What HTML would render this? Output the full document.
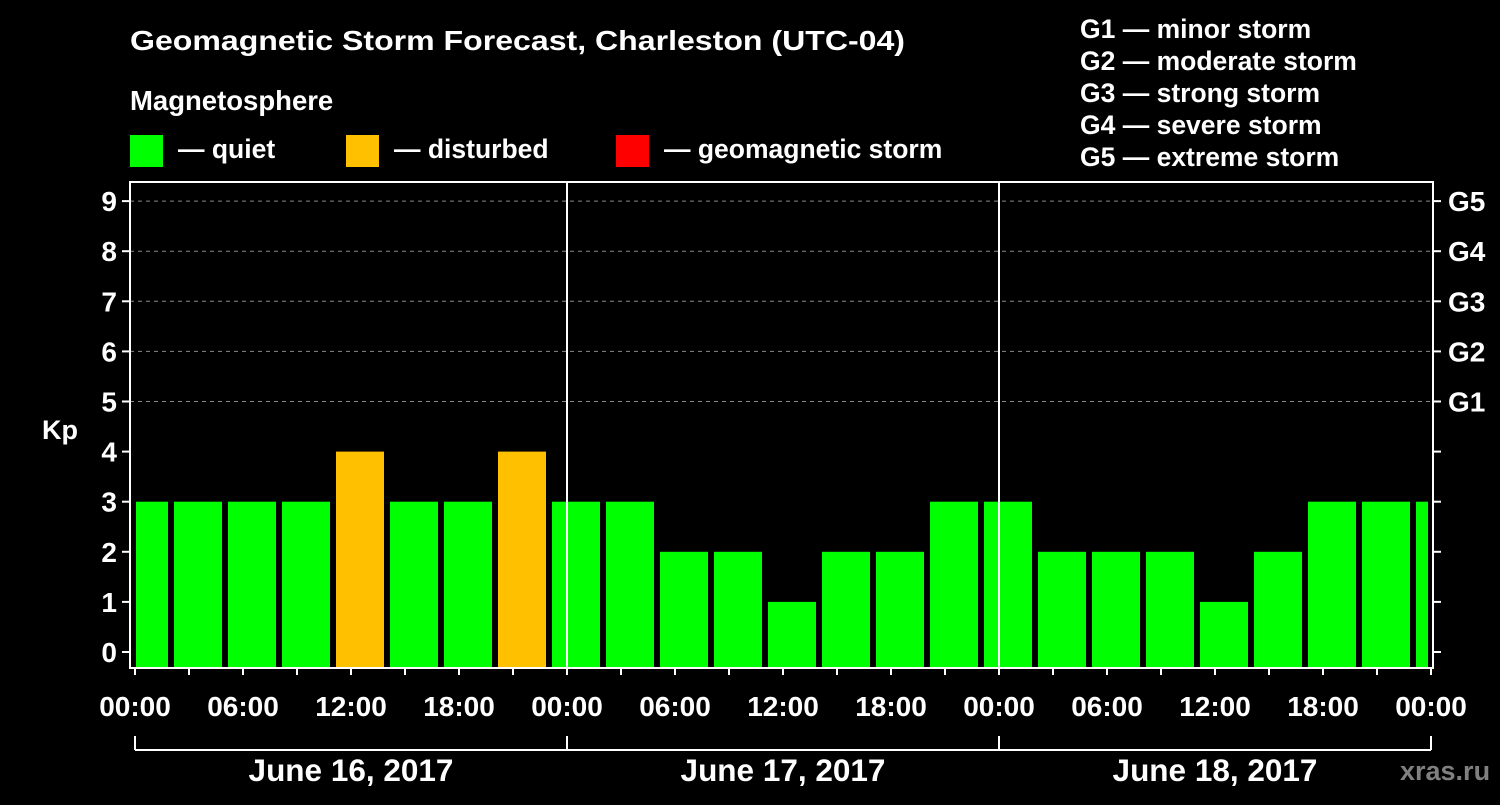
<!DOCTYPE html>
<html><head><meta charset="utf-8"><style>
body{margin:0;background:#000;}
svg text{font-family:"Liberation Sans",sans-serif;font-weight:bold;fill:#fff;}
</style></head><body>
<svg id="c" width="1500" height="800" xmlns="http://www.w3.org/2000/svg">
<rect width="1500" height="800" fill="#000"/>
<text x="130" y="50" font-size="28" textLength="775" lengthAdjust="spacingAndGlyphs">Geomagnetic Storm Forecast, Charleston (UTC-04)</text>
<text x="130" y="110" font-size="27.5">Magnetosphere</text>
<g><rect x="130" y="135" width="33" height="32" fill="#00ff00"/><text x="178" y="158" font-size="26.5">— quiet</text></g>
<g><rect x="346" y="135" width="33" height="32" fill="#ffc000"/><text x="394" y="158" font-size="26.5">— disturbed</text></g>
<g><rect x="616" y="135" width="33" height="32" fill="#ff0000"/><text x="664" y="158" font-size="26.5">— geomagnetic storm</text></g>
<g font-size="26.5">
<text x="1080" y="38">G1 — minor storm</text><text x="1080" y="70">G2 — moderate storm</text><text x="1080" y="102">G3 — strong storm</text><text x="1080" y="134">G4 — severe storm</text><text x="1080" y="166">G5 — extreme storm</text></g>
<text x="42" y="439" font-size="27">Kp</text>
<text x="1400" y="780" font-size="27" style="fill:#808080">xras.ru</text>
<g id="grid"></g><g id="bars"></g><g id="axes"></g>
</svg>
<script>
const kpValues=[3,3,3,3,4,3,3,4,3,3,2,2,1,2,2,3,3,2,2,2,1,2,3,3,3];
const yTicks=[0,1,2,3,4,5,6,7,8,9];
const gLabels=["G1","G2","G3","G4","G5"];
const xLabels=["00:00","06:00","12:00","18:00","00:00","06:00","12:00","18:00","00:00","06:00","12:00","18:00","00:00"];
const dayLabels=["June 16, 2017","June 17, 2017","June 18, 2017"];
const NS="http://www.w3.org/2000/svg";
const L=130,R=1433,T=182,B=668;
const x0=135,pxHour=18;
const y=v=>652-v*50.1;
const xh=h=>x0+h*pxHour;
function mk(tag,attrs,parent,txt){const e=document.createElementNS(NS,tag);for(const k in attrs)e.setAttribute(k,attrs[k]);if(txt!=null)e.textContent=txt;parent.appendChild(e);return e;}
const grid=document.getElementById('grid'),bars=document.getElementById('bars'),axes=document.getElementById('axes');
for(let v=5;v<=9;v++){const g=mk('line',{x1:L,x2:R,y1:y(v),y2:y(v),stroke:'#888','stroke-dasharray':'4,4','stroke-width':1},grid);

}
kpValues.forEach((v,i)=>{
 const c=xh(3*i+0.5);
 let l=c-24,r=c+24; l=Math.max(l,136); r=Math.min(r,1428);
 const col=v>=5?'#ff0000':(v>=4?'#ffc000':'#00ff00');
 const b=mk('rect',{x:l,y:y(v),width:r-l,height:B-y(v),fill:col},bars);
 
 
});
for(const d of [1,2]){const l=mk('line',{x1:xh(24*d),x2:xh(24*d),y1:T,y2:B,stroke:'#fff','stroke-width':2},axes);

}
const fr=mk('rect',{x:L,y:T,width:R-L,height:B-T,fill:'none',stroke:'#fff','stroke-width':2},axes);


yTicks.forEach(v=>{
 mk('line',{x1:L-8,x2:L,y1:y(v),y2:y(v),stroke:'#fff','stroke-width':2},axes);
 mk('line',{x1:R,x2:R+8,y1:y(v),y2:y(v),stroke:'#fff','stroke-width':2},axes);
 const t=mk('text',{x:L-13,y:y(v)+10,'font-size':28,'text-anchor':'end'},axes,String(v));
 
 
});
gLabels.forEach((g,i)=>{const t=mk('text',{x:1448,y:y(5+i)+10,'font-size':28},axes,g);

});
for(let h=0;h<=72;h+=3){mk('line',{x1:xh(h),x2:xh(h),y1:B,y2:B+7,stroke:'#fff','stroke-width':2},axes);}
xLabels.forEach((s,i)=>{const t=mk('text',{x:xh(6*i),y:716,'font-size':28,'text-anchor':'middle'},axes,s);

});
mk('line',{x1:xh(0),x2:xh(72),y1:750,y2:750,stroke:'#fff','stroke-width':2},axes);
for(let d=0;d<=3;d++)mk('line',{x1:xh(24*d),x2:xh(24*d),y1:736,y2:750,stroke:'#fff','stroke-width':2},axes);
dayLabels.forEach((s,i)=>{const t=mk('text',{x:xh(24*i+12),y:781,'font-size':31.5,'text-anchor':'middle'},axes,s);

});
</script>
</body></html>
